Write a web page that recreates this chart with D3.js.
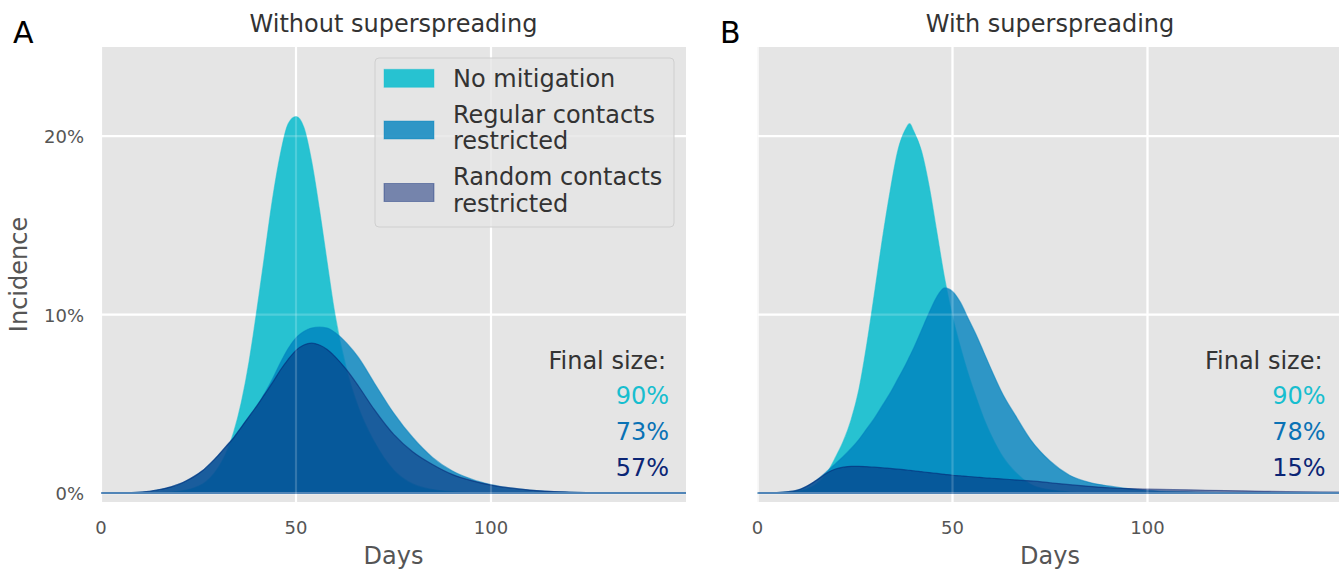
<!DOCTYPE html>
<html>
<head>
<meta charset="utf-8">
<script src="https://cdn.jsdelivr.net/npm/d3@7"></script>
<style>
  html, body { margin: 0; padding: 0; background: #ffffff; }
  svg { display: block; font-family: "DejaVu Sans", sans-serif; }
</style>
</head>
<body>
<svg id="chart" width="1339" height="570"></svg>
<script>
// ---------------- data ----------------
const days = [0, 5, 10, 15, 18, 20, 22, 24, 26, 28, 30, 32, 34, 36, 38, 39, 40, 42, 44, 46, 48,
              50, 52, 54, 56, 58, 60, 63, 66, 70, 75, 80, 85, 90, 95, 100, 110, 120, 130, 140, 150];

// Panel A: without superspreading (incidence, %)
const noMitigationA = [0, 0, 0.01, 0.03, 0.06, 0.1, 0.17, 0.3, 0.5, 0.85, 1.4, 2.2, 3.4, 5.1, 7.4, 8.8, 10.3, 13.4, 16.5, 19.0, 20.7,
                       21.1, 20.5, 18.6, 15.9, 12.9, 10.0, 6.9, 4.8, 2.9, 1.3, 0.5, 0.2, 0.08, 0.03, 0.01, 0, 0, 0, 0, 0];
const regularA      = [0, 0.01, 0.05, 0.2, 0.35, 0.5, 0.7, 0.95, 1.25, 1.65, 2.1, 2.6, 3.1, 3.7, 4.3, 4.6, 4.9, 5.6, 6.4, 7.3, 8.1,
                       8.7, 9.05, 9.25, 9.3, 9.25, 9.0, 8.4, 7.6, 6.2, 4.5, 3.1, 2.0, 1.25, 0.78, 0.47, 0.17, 0.06, 0.02, 0.01, 0];
const randomA       = [0, 0.01, 0.05, 0.2, 0.35, 0.5, 0.7, 0.95, 1.25, 1.65, 2.1, 2.6, 3.1, 3.7, 4.3, 4.6, 4.9, 5.55, 6.2, 6.9, 7.5,
                       8.0, 8.3, 8.4, 8.3, 8.05, 7.65, 6.9, 6.0, 4.7, 3.3, 2.3, 1.6, 1.05, 0.7, 0.45, 0.17, 0.06, 0.02, 0.01, 0];

// Panel B: with superspreading (incidence, %)
const noMitigationB = [0, 0.02, 0.1, 0.5, 1.2, 2.0, 2.9, 4.1, 5.8, 8.3, 11.2, 14.2, 16.9, 19.2, 20.4, 20.7, 20.3, 19.2, 17.2, 14.6, 12.0,
                       9.9, 8.2, 6.7, 5.4, 4.2, 3.2, 2.0, 1.2, 0.5, 0.18, 0.06, 0.02, 0.01, 0, 0, 0, 0, 0, 0, 0];
const regularB      = [0, 0.03, 0.15, 0.7, 1.25, 1.65, 2.05, 2.5, 3.0, 3.6, 4.2, 4.9, 5.6, 6.4, 7.2, 7.65, 8.1, 9.1, 10.1, 11.0, 11.5,
                       11.3, 10.7, 9.8, 8.9, 7.9, 6.9, 5.5, 4.4, 3.0, 1.8, 1.0, 0.6, 0.4, 0.25, 0.15, 0.07, 0.03, 0.01, 0, 0];
const randomB       = [0, 0.03, 0.15, 0.7, 1.15, 1.35, 1.45, 1.5, 1.5, 1.48, 1.45, 1.42, 1.38, 1.34, 1.3, 1.28, 1.25, 1.2, 1.15, 1.1, 1.05,
                       1.0, 0.97, 0.93, 0.9, 0.86, 0.83, 0.79, 0.74, 0.68, 0.58, 0.47, 0.38, 0.3, 0.25, 0.22, 0.18, 0.14, 0.1, 0.07, 0.05];

const seriesNames = ["No mitigation", ["Regular contacts", "restricted"], ["Random contacts", "restricted"]];
const finalSizeA = ["90%", "73%", "57%"];
const finalSizeB = ["90%", "78%", "15%"];
const panelTitles = ["Without superspreading", "With superspreading"];
const panelLetters = ["A", "B"];
const xTicks = [0, 50, 100];
const yTicks = [0, 10, 20];
const yTickLabels = ["0%", "10%", "20%"];

// ---------------- styles ----------------
const fillColors = ["#17bfcf", "#0082be", "#052373"];
const fillOpacity = [0.92, 0.8, 0.5];
const textColors = ["#17becf", "#0a72b5", "#0b2575"];

const svg = d3.select("#chart");

const yScale = d3.scaleLinear().domain([-0.5, 25]).range([502, 47]);

const panels = [
  { letter: panelLetters[0], title: panelTitles[0], series: [noMitigationA, regularA, randomA],
    finals: finalSizeA, range: [101, 686], showY: true, legend: true, letterX: 13 },
  { letter: panelLetters[1], title: panelTitles[1], series: [noMitigationB, regularB, randomB],
    finals: finalSizeB, range: [757.5, 1342.5], showY: false, legend: false, letterX: 720 }
];

panels.forEach((p, pi) => {
  const x = d3.scaleLinear().domain([0, 150]).range(p.range);
  const g = svg.append("g");
  const clipId = "clip" + pi;
  svg.append("clipPath").attr("id", clipId).append("rect")
    .attr("x", x(0)).attr("y", yScale(25)).attr("width", x(150) - x(0)).attr("height", yScale(-0.5) - yScale(25));

  // background
  g.append("rect").attr("x", x(0)).attr("y", yScale(25))
    .attr("width", x(150) - x(0)).attr("height", yScale(-0.5) - yScale(25))
    .attr("fill", "#e5e5e5");

  // grid
  const grid = g.append("g").attr("clip-path", `url(#${clipId})`);
  const drawGrid = (sel, op) => {
    sel.selectAll(null).data(yTicks).enter().append("line")
      .attr("x1", x(0)).attr("x2", x(150)).attr("y1", d => yScale(d)).attr("y2", d => yScale(d))
      .attr("stroke", "#ffffff").attr("stroke-width", 2.2).attr("stroke-opacity", op);
    sel.selectAll(null).data(xTicks).enter().append("line")
      .attr("x1", d => x(d)).attr("x2", d => x(d)).attr("y1", yScale(25)).attr("y2", yScale(-0.5))
      .attr("stroke", "#ffffff").attr("stroke-width", 2.2).attr("stroke-opacity", op);
  };
  drawGrid(grid, 1);

  // areas
  const areaLayer = g.append("g").attr("clip-path", `url(#${clipId})`);
  p.series.forEach((vals, si) => {
    const pts = days.map((d, i) => [d, vals[i]]);
    const area = d3.area().x(d => x(d[0])).y0(yScale(0)).y1(d => yScale(d[1])).curve(d3.curveMonotoneX);
    const line = d3.line().x(d => x(d[0])).y(d => yScale(d[1])).curve(d3.curveMonotoneX);
    areaLayer.append("path").attr("d", area(pts))
      .attr("fill", fillColors[si]).attr("fill-opacity", fillOpacity[si]);
    areaLayer.append("path").attr("d", line(pts))
      .attr("fill", "none").attr("stroke", fillColors[si]).attr("stroke-opacity", 0.55).attr("stroke-width", 1.2);
  });
  // baseline of the filled curves
  areaLayer.append("line").attr("x1", x(0)).attr("x2", x(150)).attr("y1", yScale(0)).attr("y2", yScale(0))
    .attr("stroke", "#2b6ba8").attr("stroke-width", 2);

  // faint grid showing through
  const grid2 = g.append("g").attr("clip-path", `url(#${clipId})`);
  drawGrid(grid2, 0.18);

  // x tick labels
  g.selectAll(null).data(xTicks).enter().append("text")
    .attr("x", d => x(d)).attr("y", 534).attr("text-anchor", "middle")
    .attr("font-size", 18).attr("fill", "#555555").text(d => d);
  // x axis label
  g.append("text").attr("x", (x(0) + x(150)) / 2).attr("y", 563.5).attr("text-anchor", "middle")
    .attr("font-size", 24).attr("fill", "#555555").text("Days");

  // y ticks
  if (p.showY) {
    g.selectAll(null).data(yTicks).enter().append("text")
      .attr("x", 84).attr("y", d => yScale(d) + 7).attr("text-anchor", "end")
      .attr("font-size", 18).attr("fill", "#555555").text((d, i) => yTickLabels[i]);
    g.append("text").attr("transform", `translate(27,${(yScale(25) + yScale(-0.5)) / 2}) rotate(-90)`)
      .attr("text-anchor", "middle").attr("font-size", 24).attr("fill", "#555555").text("Incidence");
  }

  // title and letter
  g.append("text").attr("x", (x(0) + x(150)) / 2).attr("y", 32).attr("text-anchor", "middle")
    .attr("font-size", 24).attr("fill", "#333333").text(p.title);
  g.append("text").attr("x", p.letterX).attr("y", 43)
    .attr("font-size", 30).attr("fill", "#000000").text(p.letter);

  // final size annotations
  const rx = x(150) - 17;
  g.append("text").attr("x", rx - 3).attr("y", 368.5).attr("text-anchor", "end")
    .attr("font-size", 24).attr("fill", "#333333").text("Final size:");
  p.finals.forEach((f, i) => {
    g.append("text").attr("x", rx).attr("y", 404 + i * 36).attr("text-anchor", "end")
      .attr("font-size", 24).attr("fill", textColors[i]).text(f);
  });

  // legend
  if (p.legend) {
    const lg = g.append("g");
    lg.append("rect").attr("x", 375).attr("y", 58).attr("width", 299).attr("height", 169).attr("rx", 4)
      .attr("fill", "#e5e5e5").attr("fill-opacity", 0.8).attr("stroke", "#cfcfcf").attr("stroke-width", 1);
    const patchY = [69.3, 121, 183.5];
    const textY = [[86.7], [122.7, 149.3], [185, 211.7]];
    seriesNames.forEach((name, i) => {
      lg.append("rect").attr("x", 384).attr("y", patchY[i]).attr("width", 50).attr("height", 18)
        .attr("fill", fillColors[i]).attr("fill-opacity", fillOpacity[i])
        .attr("stroke", fillColors[i]).attr("stroke-opacity", 0.4).attr("stroke-width", 1);
      const lines = Array.isArray(name) ? name : [name];
      lines.forEach((ln, j) => {
        lg.append("text").attr("x", 453).attr("y", textY[i][j])
          .attr("font-size", 24).attr("fill", "#333333").text(ln);
      });
    });
  }
});
</script>
</body>
</html>
